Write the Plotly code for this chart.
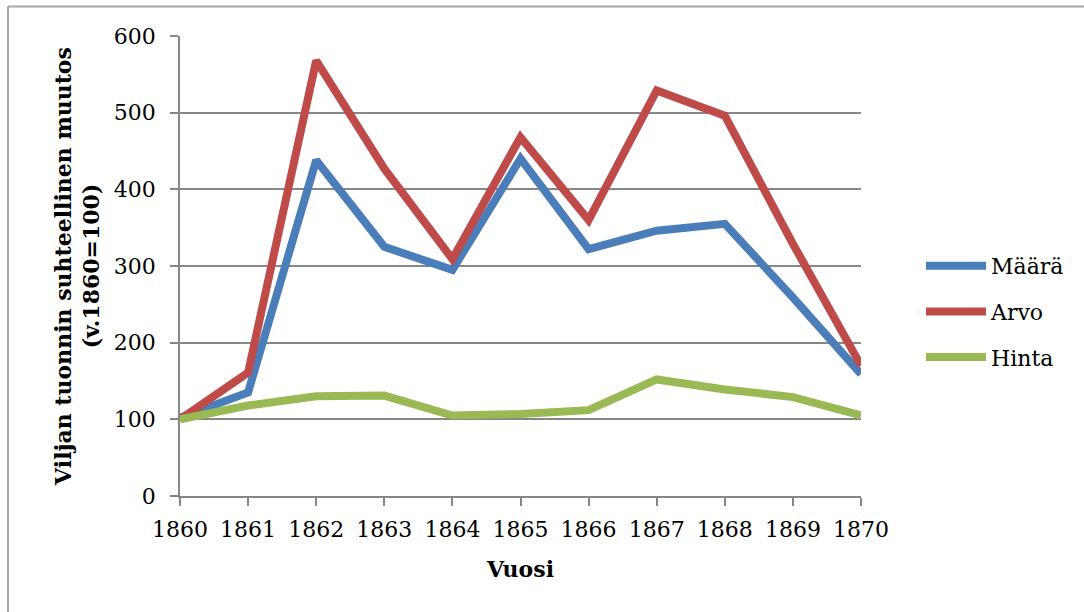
import plotly.graph_objects as go

# Tuontitiedot, v.1860 = 100
vuodet = [1860, 1861, 1862, 1863, 1864, 1865, 1866, 1867, 1868, 1869, 1870]
maara = [102, 135, 438, 325, 295, 440, 322, 346, 355, 259, 159]
arvo = [100, 161, 568, 427, 309, 468, 360, 529, 496, 329, 170]
hinta = [100, 118, 130, 131, 105, 107, 112, 152, 139, 129, 105]

sarjat = [
    ("Määrä", maara, "#4A7EBB"),
    ("Arvo", arvo, "#BE4B48"),
    ("Hinta", hinta, "#98B954"),
]

fontti = "DejaVu Serif"

fig = go.Figure()
for nimi, arvot, vari in sarjat:
    fig.add_trace(go.Scatter(
        x=vuodet, y=arvot, name=nimi, mode="lines",
        legendgroup=nimi,
        line=dict(color=vari, width=8),
    ))

# plot area in pixels
W, H = 1084, 612
L, R, T, B = 180, 861, 36, 496
def px(x):
    return (x - L) / (R - L)
def py(y):
    return (B - y) / (B - T)

fig.update_layout(
    width=W, height=H,
    margin=dict(l=L, r=W - R, t=T, b=H - B),
    paper_bgcolor="white", plot_bgcolor="white",
    font=dict(family=fontti, size=22, color="black"),
    showlegend=True,
    legend=dict(
        x=px(921), y=py(245), xanchor="left", yanchor="top",
        font=dict(family=fontti, size=22),
        tracegroupgap=14, itemwidth=60,
        bgcolor="rgba(0,0,0,0)",
    ),
    shapes=[
        dict(type="line", xref="paper", yref="paper",
             x0=px(8), x1=px(8), y0=py(640), y1=py(6.5),
             line=dict(color="#a6a6a6", width=2)),
        dict(type="line", xref="paper", yref="paper",
             x0=px(8), x1=px(1090), y0=py(6.5), y1=py(6.5),
             line=dict(color="#a6a6a6", width=2)),
    ],
)

fig.update_xaxes(
    range=[1860, 1870], tickmode="array", tickvals=vuodet,
    showgrid=False, showline=True, linecolor="#878787", linewidth=1.5,
    ticks="outside", ticklen=8, tickcolor="#878787", tickwidth=1.5,
    ticklabelstandoff=5,
    title=dict(text="<b>Vuosi</b>", standoff=20,
               font=dict(family=fontti, size=22)),
    zeroline=False,
)
fig.update_yaxes(
    range=[0, 600], tickvals=[0, 100, 200, 300, 400, 500, 600],
    showgrid=True, gridcolor="#878787", gridwidth=1.5,
    showline=True, linecolor="#878787", linewidth=1.5,
    ticks="outside", ticklen=8, tickcolor="#878787", tickwidth=1.5,
    ticklabelstandoff=10,
    title=dict(text="<b>Viljan tuonnin suhteellinen muutos<br>(v.1860=100)</b>",
               standoff=8, font=dict(family=fontti, size=22)),
    zeroline=False,
)

# remove the default page margin so the figure fills the window
fig.write_html("out.html", config={"displayModeBar": False},
               post_script="document.body.style.margin='0';")
